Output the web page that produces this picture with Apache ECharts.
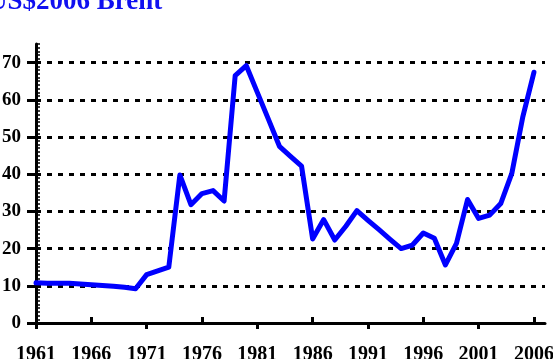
<!DOCTYPE html>
<html>
<head>
<meta charset="utf-8">
<script src="https://cdn.jsdelivr.net/npm/echarts@6/dist/echarts.min.js"></script>
<style>
html,body{margin:0;padding:0;background:#fff;}
#chart{width:553px;height:359px;}
</style>
</head>
<body>
<div id="chart"></div>
<script>
// Data
const titleText = 'US$2006 Brent';
const years = ['1961','1962','1963','1964','1965','1966','1967','1968','1969','1970',
  '1971','1972','1973','1974','1975','1976','1977','1978','1979','1980',
  '1981','1982','1983','1984','1985','1986','1987','1988','1989','1990',
  '1991','1992','1993','1994','1995','1996','1997','1998','1999','2000',
  '2001','2002','2003','2004','2005','2006','2007'];
const brentReal = [10.8,10.7,10.7,10.7,10.5,10.3,10.1,9.9,9.6,9.2,
  13.0,14.0,15.0,39.8,31.8,34.8,35.6,32.8,66.5,69.2,
  62.0,54.8,47.5,44.8,42.2,22.6,27.8,22.3,26.0,30.2,
  27.6,25.1,22.5,20.0,20.9,24.2,22.8,15.6,21.4,33.2,
  28.1,29.0,32.1,40.2,55.5,67.4];
const yLabelValues = [0,10,20,30,40,50,60,70];

const chart = echarts.init(document.getElementById('chart'), null, {renderer:'canvas'});
const serif = 'Liberation Serif, Times New Roman, serif';
chart.setOption({
  animation: false,
  backgroundColor: '#ffffff',
  graphic: [{
    type: 'text',
    left: -12,
    top: -11,
    style: {
      text: titleText,
      fill: '#1010f0',
      font: 'bold 27px ' + serif
    }
  }],
  grid: {left: 36, right: 8, top: 44, bottom: 36, containLabel: false, outerBoundsMode: 'none'},
  xAxis: [{
    type: 'category',
    data: years,
    boundaryGap: false,
    position: 'bottom',
    axisLine: {show: true, lineStyle: {color: '#000', width: 3}},
    axisTick: {show: true, inside: true, length: 6, lineStyle: {color: '#000', width: 3},
      interval: function (i) { return i % 10 === 5; }},
    axisLabel: {show: true, color: '#000', fontFamily: serif, fontWeight: 'bold', fontSize: 20, margin: 22,
      interval: function (i) { return i % 5 === 0 && i <= 45; }},
    splitLine: {show: false}
  }, {
    type: 'category',
    data: years,
    boundaryGap: false,
    position: 'bottom',
    axisLine: {show: false},
    axisTick: {show: true, inside: false, length: 6, lineStyle: {color: '#000', width: 3},
      interval: function (i) { return i % 10 === 0 && i <= 45; }},
    axisLabel: {show: false},
    splitLine: {show: false}
  }],
  yAxis: [{
    type: 'value',
    min: 0, max: 75, interval: 1,
    position: 'left',
    axisLine: {show: true, lineStyle: {color: '#000', width: 3}},
    axisTick: {show: true, inside: true, length: 4, lineStyle: {color: '#000', width: 1.5}},
    axisLabel: {show: true, color: '#000', fontFamily: serif, fontWeight: 'bold', fontSize: 19, margin: 15,
      formatter: function (v) { return yLabelValues.indexOf(v) >= 0 ? String(v) : ''; }},
    splitLine: {show: false}
  }, {
    type: 'value',
    min: 0, max: 75, interval: 10,
    position: 'left',
    axisLine: {show: false},
    axisTick: {show: true, inside: false, length: 9, customValues: yLabelValues, lineStyle: {color: '#000', width: 3}},
    axisLabel: {show: false},
    splitLine: {show: true, showMinLine: false, showMaxLine: true,
      lineStyle: {color: '#000', width: 3, type: [5, 6]}}
  }],
  series: [{
    type: 'line',
    xAxisIndex: 0,
    yAxisIndex: 0,
    data: brentReal,
    symbol: 'none',
    smooth: false,
    lineStyle: {color: '#0000ff', width: 5, join: 'round', cap: 'round'}
  }]
});
</script>
</body>
</html>
